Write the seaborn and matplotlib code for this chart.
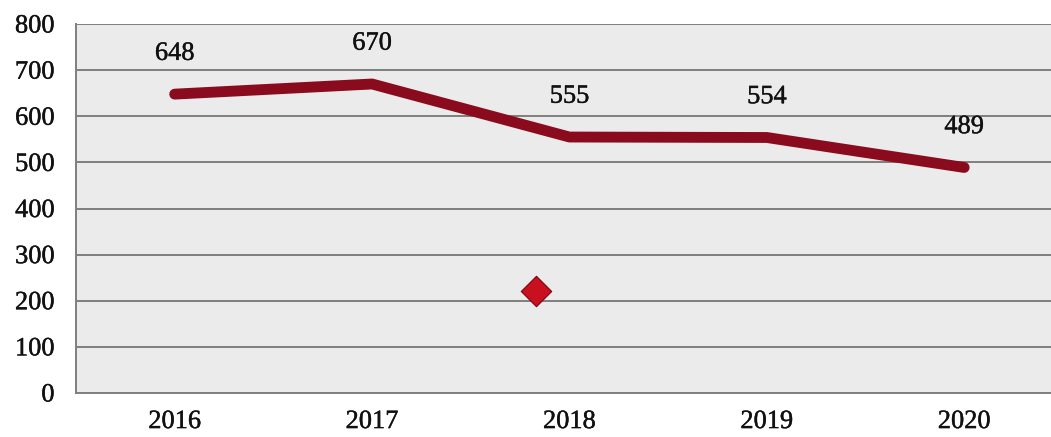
import matplotlib
matplotlib.use("Agg")
import matplotlib.pyplot as plt
import matplotlib.patheffects as pe
import numpy as np
import pandas as pd
import seaborn as sns

# Data
years = ["2016", "2017", "2018", "2019", "2020"]
values = [648, 670, 555, 554, 489]

# stray diamond marker (between 2017 and 2018)
marker_x = [1.83]
marker_y = [222]

sns.set_style("white")
plt.rcParams["font.family"] = ["Liberation Serif", "DejaVu Serif"]

df = pd.DataFrame({"pos": np.arange(len(years)), "year": years, "value": values})

fig = plt.figure(figsize=(10.51, 4.37), dpi=100)
ax = fig.add_axes([0.0723, 0.1007, 0.939, 0.8443])
ax.set_facecolor("#ebebeb")

line_color = "#8a0b1d"
sns.lineplot(data=df, x="pos", y="value", ax=ax, color=line_color, linewidth=7.8,
             sort=False, solid_capstyle="round", solid_joinstyle="round", zorder=3)

sns.scatterplot(x=marker_x, y=marker_y, ax=ax, marker="D", s=240,
                color="#c8101f", edgecolor="#800012", linewidth=0.8, zorder=4)

bold = [pe.withStroke(linewidth=0.3, foreground="#111111")]

# data labels
for p, v in zip(df["pos"], df["value"]):
    ax.annotate(str(v), (p, v), xytext=(0, 29), textcoords="offset points",
                ha="center", va="center", fontsize=19, color="#111111",
                path_effects=bold)

ax.set_xlim(-0.5, len(years) - 0.5)
ax.set_ylim(0, 800)
ax.set_yticks(range(0, 801, 100))
ax.set_xticks(df["pos"])
ax.set_xticklabels(years)
ax.set_xticks(np.arange(-0.5, len(years), 1.0), minor=True)

ax.grid(axis="y", color="#7f7f7f", linewidth=1.4, zorder=1)
ax.set_axisbelow(True)

for side in ["top", "right"]:
    ax.spines[side].set_visible(False)
for side in ["left", "bottom"]:
    ax.spines[side].set_color("#7f7f7f")
    ax.spines[side].set_linewidth(1.4)

ax.tick_params(axis="y", length=4.5, width=1.2, color="#7f7f7f", pad=11,
               labelsize=19, labelcolor="#111111")
ax.tick_params(axis="x", which="major", length=0, pad=13,
               labelsize=19, labelcolor="#111111")
ax.tick_params(axis="x", which="minor", length=5, width=1.2, color="#7f7f7f")
for lab in ax.get_xticklabels() + ax.get_yticklabels():
    lab.set_path_effects(bold)

ax.set_xlabel("")
ax.set_ylabel("")

fig.savefig("out.png", dpi=100)
